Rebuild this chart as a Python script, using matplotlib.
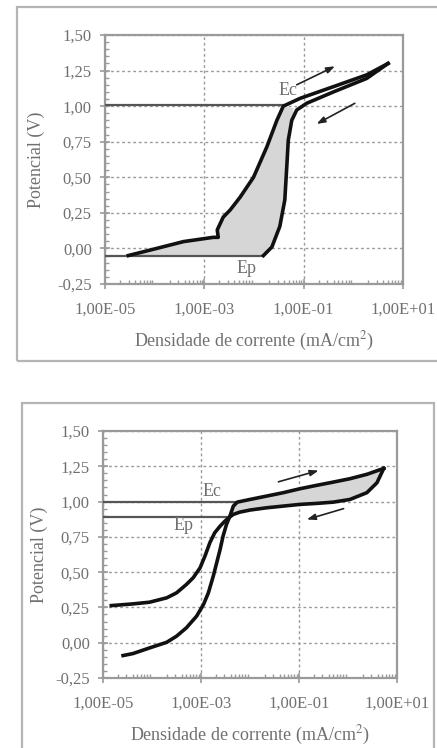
import numpy as np
import matplotlib
matplotlib.use("Agg")
import matplotlib.pyplot as plt
from matplotlib.patches import Rectangle
from matplotlib.ticker import LogLocator, MultipleLocator, FixedLocator, NullFormatter

# ---------------- data (log10 current density, potential) ----------------
# Top chart
top_fwd_logi = [-4.53, -3.96, -3.42, -2.82, -2.72, -2.74, -2.62, -2.48, -2.28, -2.01, -1.74, -1.54, -1.41, -1.07, -0.40, 0.27, 0.70]
top_fwd_E    = [-0.05,  0.00,  0.048, 0.078, 0.078, 0.13,  0.22,  0.27,  0.36,  0.50,  0.715, 0.90,  1.00,  1.055, 1.137, 1.22, 1.30]
top_rev_logi = [0.70, 0.27, -0.40, -0.94, -1.14, -1.24, -1.31, -1.34, -1.38, -1.48, -1.64, -1.81]
top_rev_E    = [1.30, 1.195, 1.10, 1.02, 0.973, 0.90, 0.76, 0.575, 0.34, 0.155, 0.01, -0.05]
top_Ec = 1.01
top_Ep = -0.05
top_Ec_end = -1.41
top_Ep_end = -1.81

# Bottom chart
bot_fwd_logi = [-4.59, -4.39, -4.05, -3.70, -3.50, -3.30, -3.09, -2.95, -2.85, -2.75, -2.68, -2.61, -2.55, -2.48,
                -2.41, -2.34, -2.26, -2.00, -1.66, -1.32, -0.98, -0.64, -0.30, 0.04, 0.385, 0.73]
bot_fwd_E    = [-0.091, -0.077, -0.037, 0.003, 0.046, 0.105, 0.188, 0.270, 0.353, 0.471, 0.566, 0.661, 0.755, 0.838,
                0.897, 0.968, 0.996, 1.015, 1.039, 1.063, 1.091, 1.115, 1.138, 1.162, 1.193, 1.235]
bot_rev_logi = [0.73, 0.59, 0.385, 0.04, -0.30, -0.64, -0.98, -1.32, -1.66, -2.00, -2.21, -2.34, -2.41, -2.51, -2.61,
                -2.72, -2.82, -2.92, -3.02, -3.16, -3.30, -3.50, -3.70, -4.05, -4.39, -4.83]
bot_rev_E    = [1.235, 1.133, 1.063, 1.015, 0.996, 0.987, 0.980, 0.968, 0.956, 0.940, 0.925, 0.909, 0.892, 0.862, 0.826,
                0.779, 0.708, 0.613, 0.530, 0.460, 0.412, 0.353, 0.318, 0.287, 0.275, 0.263]
bot_Ec = 1.0
bot_Ep = 0.89
bot_Ec_end = -2.31
bot_Ep_end = -2.41

x_ticks = [1e-5, 1e-3, 1e-1, 1e1]
x_ticklabels = ["1,00E-05", "1,00E-03", "1,00E-01", "1,00E+01"]
y_ticks = [-0.25, 0.0, 0.25, 0.5, 0.75, 1.0, 1.25, 1.5]
y_ticklabels = ["-0,25", "0,00", "0,25", "0,50", "0,75", "1,00", "1,25", "1,50"]
xlabel = "Densidade de corrente (mA/cm$^2$)"
ylabel = "Potencial (V)"

# ---------------- figure ----------------
W, H = 437, 748
fig = plt.figure(figsize=(W / 100, H / 100), dpi=100)
plt.rcParams['font.family'] = ['Liberation Serif', 'DejaVu Serif']
plt.rcParams['mathtext.fontset'] = 'stix'

txt_col = '#707070'
spine_col = '#9a9a9a'
frame_col = '#b5b5b5'


def px_axes(l, t, r, b):
    return [l / W, 1 - b / H, (r - l) / W, (b - t) / H]


# outer frames
fig.add_artist(Rectangle((17 / W, 1 - 361 / H), (445 - 17) / W, (361 - 7) / H,
                         transform=fig.transFigure, fill=False, ec=frame_col, lw=1.6))
fig.add_artist(Rectangle((22 / W, 1 - 760 / H), (434 - 22) / W, (760 - 403) / H,
                         transform=fig.transFigure, fill=False, ec=frame_col, lw=1.6))


def style_axes(ax, ylabelpad):
    ax.set_xscale('log')
    ax.set_xlim(1e-5, 1e1)
    ax.set_ylim(-0.25, 1.5)
    ax.xaxis.set_major_locator(FixedLocator(x_ticks))
    ax.set_xticklabels(x_ticklabels)
    ax.xaxis.set_minor_locator(LogLocator(base=10, subs=np.arange(2, 10), numticks=20))
    ax.xaxis.set_minor_formatter(NullFormatter())
    ax.set_yticks(y_ticks)
    ax.set_yticklabels(y_ticklabels)
    ax.yaxis.set_minor_locator(MultipleLocator(0.05))
    for s in ax.spines.values():
        s.set_color(spine_col)
        s.set_linewidth(1.6)
    ax.tick_params(which='major', direction='inout', length=7, width=1.2, color=spine_col,
                   labelsize=12, labelcolor=txt_col)
    ax.tick_params(axis='x', which='major', pad=9)
    ax.tick_params(axis='y', which='major', pad=6)
    ax.tick_params(which='minor', direction='in', length=3, width=1, color=spine_col)
    ax.grid(True, which='major', color='#9a9a9a', linestyle=(0, (2, 2)), linewidth=1.0)
    ax.set_axisbelow(True)
    ax.set_xlabel(xlabel, fontsize=13, color=txt_col, labelpad=9)
    ax.set_ylabel(ylabel, fontsize=13, color=txt_col, labelpad=ylabelpad)


def arrow(ax, x0, y0, x1, y1):
    ax.annotate('', xy=(x1, y1), xytext=(x0, y0),
                arrowprops=dict(arrowstyle='-|>,head_length=0.5,head_width=0.18', color='#222222',
                                lw=1.2, shrinkA=0, shrinkB=0))


# ---------------- top chart ----------------
ax1 = fig.add_axes(px_axes(105, 35, 403, 284))
style_axes(ax1, 9)
fx = 10 ** np.array(top_fwd_logi)
rx = 10 ** np.array(top_rev_logi)
poly_x = list(fx[:13]) + [10 ** -1.2] + list(rx[5:])
poly_y = list(top_fwd_E[:13]) + [0.985] + list(top_rev_E[5:])
ax1.fill(poly_x, poly_y, color='#d6d6d6', zorder=2, lw=0)
ax1.plot([1e-5, 10 ** top_Ec_end], [top_Ec, top_Ec], color='#555555', lw=1.6, zorder=3)
ax1.plot([1e-5, 10 ** top_Ep_end], [top_Ep, top_Ep], color='#555555', lw=1.6, zorder=3)
ax1.plot(fx, top_fwd_E, color='#111111', lw=2.6, zorder=4, solid_joinstyle='round')
ax1.plot(rx, top_rev_E, color='#111111', lw=2.6, zorder=4, solid_joinstyle='round')
ax1.text(10 ** -1.31, 1.11, 'Ec', fontsize=13, color=txt_col, ha='center', va='center')
ax1.text(10 ** -2.15, -0.14, 'Ep', fontsize=13, color=txt_col, ha='center', va='center')
arrow(ax1, 10 ** -1.14, 1.15, 10 ** -0.37, 1.28)
arrow(ax1, 10 ** 0.03, 1.02, 10 ** -0.74, 0.875)

# ---------------- bottom chart ----------------
ax2 = fig.add_axes(px_axes(103, 431, 397, 678))
style_axes(ax2, 5)
bfx = 10 ** np.array(bot_fwd_logi)
brx = 10 ** np.array(bot_rev_logi)
loop_x = list(bfx[15:]) + list(brx[:12])
loop_y = list(bot_fwd_E[15:]) + list(bot_rev_E[:12])
ax2.fill(loop_x, loop_y, color='#d6d6d6', zorder=2, lw=0)
ax2.plot([1e-5, 10 ** bot_Ec_end], [bot_Ec, bot_Ec], color='#555555', lw=1.6, zorder=3)
ax2.plot([1e-5, 10 ** bot_Ep_end], [bot_Ep, bot_Ep], color='#555555', lw=1.6, zorder=3)
ax2.plot(bfx, bot_fwd_E, color='#111111', lw=2.6, zorder=4, solid_joinstyle='round')
ax2.plot(brx, bot_rev_E, color='#111111', lw=2.6, zorder=4, solid_joinstyle='round')
ax2.text(10 ** -2.78, 1.07, 'Ec', fontsize=13, color=txt_col, ha='center', va='center')
ax2.text(10 ** -3.36, 0.83, 'Ep', fontsize=13, color=txt_col, ha='center', va='center')
arrow(ax2, 10 ** -1.42, 1.14, 10 ** -0.60, 1.22)
arrow(ax2, 10 ** -0.09, 0.95, 10 ** -0.84, 0.873)

fig.savefig('out.png', dpi=100)
